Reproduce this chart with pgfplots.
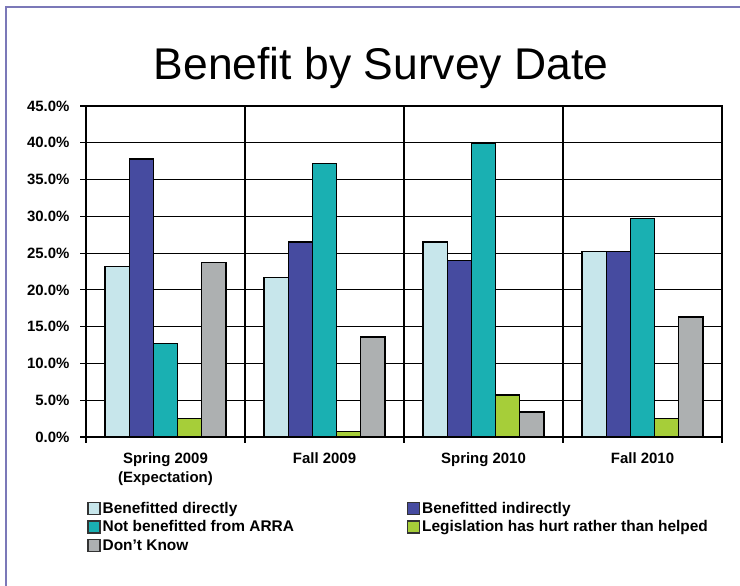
\documentclass[border=0pt]{standalone}
\usepackage{pgfplots}
\pgfplotsset{compat=1.18}
\usepackage{fontspec}
\setmainfont{Liberation Sans}
\definecolor{cLight}{RGB}{199,230,235}
\definecolor{cDark}{RGB}{70,75,160}
\definecolor{cTeal}{RGB}{26,176,178}
\definecolor{cGreen}{RGB}{166,206,57}
\definecolor{cGray}{RGB}{173,176,177}
\definecolor{cFrame}{RGB}{123,120,184}
\begin{document}
\begin{tikzpicture}[x=1bp,y=1bp]
\path[use as bounding box] (0,0) rectangle (740,586);
\draw[cFrame, line width=2bp] (6,0) -- (6,579) -- (740,579);
\node[anchor=base, font=\fontsize{44.6}{50}\selectfont] at (381,506) {Benefit by Survey Date};
\begin{axis}[
  at={(86bp,149bp)}, anchor=south west,
  scale only axis, width=636bp, height=331bp,
  ybar=0pt, bar width=0.152,
  xmin=-0.5, xmax=3.5, ymin=0, ymax=45,
  axis line style={black, line width=1.1bp},
  xtick={-0.5,0.5,1.5,2.5,3.5}, xticklabels={},
  xtick pos=bottom, ytick pos=left,
  xmajorgrids, ymajorgrids,
  major grid style={black, line width=1.2bp},
  tick style={black, line width=1.1bp},
  tick align=outside, major tick length=6bp,
  ytick={0,5,...,45},
  yticklabel={\pgfmathprintnumber[fixed,fixed zerofill,precision=1]{\tick}\%},
  /pgf/number format/assume math mode=true,
  yticklabel style={font=\fontsize{15}{17}\selectfont\bfseries, xshift=-7bp},
  extra x ticks={0,1,2,3},
  extra x tick labels={{Spring 2009\\(Expectation)},{Fall 2009},{Spring 2010},{Fall 2010}},
  extra x tick style={major tick length=0pt, grid=none,
    xticklabel style={font=\fontsize{15}{19}\selectfont\bfseries, align=center, yshift=-12bp}},
  every axis plot/.append style={draw=black, line width=1.2bp},
  legend columns=2,
  legend cell align=left,
  legend style={at={(rel axis cs:0.002,-0.19)}, anchor=north west, draw=none, fill=none,
    font=\fontsize{15.5}{17}\selectfont\bfseries,
    row sep=2bp, inner sep=0pt,
    /tikz/every even column/.append style={column sep=111bp}},
  legend image code/.code={\draw[#1, draw=black!80, line width=1.2bp] (0bp,-6bp) rectangle (12bp,6bp);},
]
\addplot[fill=cLight] coordinates {(0,23.2) (1,21.7) (2,26.5) (3,25.2)};
\addplot[fill=cDark] coordinates {(0,37.8) (1,26.5) (2,24.0) (3,25.2)};
\addplot[fill=cTeal] coordinates {(0,12.7) (1,37.2) (2,39.9) (3,29.7)};
\addplot[fill=cGreen] coordinates {(0,2.5) (1,0.8) (2,5.7) (3,2.5)};
\addplot[fill=cGray] coordinates {(0,23.7) (1,13.6) (2,3.4) (3,16.3)};
\legend{Benefitted directly, Benefitted indirectly, Not benefitted from ARRA, Legislation has hurt rather than helped, Don't Know}
\end{axis}
\end{tikzpicture}
\end{document}
